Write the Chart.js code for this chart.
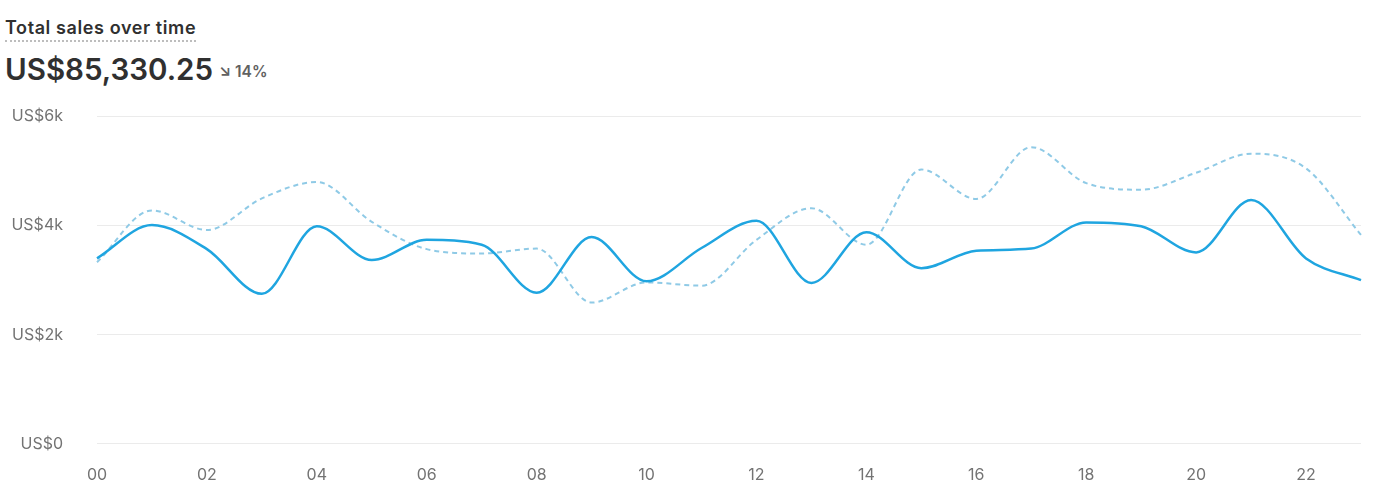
<!DOCTYPE html>
<html>
<head>
<meta charset="utf-8">
<script src="https://cdn.jsdelivr.net/npm/chart.js@4/dist/chart.umd.min.js"></script>
<style>
  html, body { margin: 0; padding: 0; background: #fff; font-family: Inter, "Noto Sans", sans-serif; }
  .title { position: absolute; left: 5px; top: 19px; font-size: 18px; line-height: 1; font-weight: 600; color: #303030;
           letter-spacing: 0.6px; padding-bottom: 3px; border-bottom: 2px dotted #bdbdbd; }
  .total { position: absolute; left: 5px; top: 55px; font-size: 29.5px; line-height: 1; font-weight: 600; color: #303030; }
  .delta { position: absolute; left: 219px; top: 64px; font-size: 15.5px; line-height: 1; font-weight: 600; color: #616161; }
  .wrap { position: absolute; left: 0; top: 73px; width: 1376px; height: 426px; }
</style>
</head>
<body>
<div class="title">Total sales over time</div>
<div class="total">US$85,330.25</div>
<div class="delta">&#8600; 14%</div>
<div class="wrap"><canvas id="chart"></canvas></div>
<script>
const hours = ['00','01','02','03','04','05','06','07','08','09','10','11',
               '12','13','14','15','16','17','18','19','20','21','22','23'];
const currentSales = [3400, 4010, 3570, 2750, 3990, 3370, 3740, 3650, 2770, 3790, 2980, 3590,
                      4090, 2950, 3880, 3220, 3540, 3580, 4060, 3990, 3510, 4470, 3400, 3000];
const previousSales = [3330, 4280, 3920, 4500, 4800, 4070, 3570, 3490, 3580, 2590, 2960, 2900,
                       3740, 4320, 3650, 5030, 4490, 5440, 4780, 4660, 4970, 5320, 5050, 3830];
const yTicks = [0, 2000, 4000, 6000];

const fmtMoney = v => v === 0 ? 'US$0' : 'US$' + (v / 1000) + 'k';

new Chart(document.getElementById('chart'), {
    type: 'line',
    data: {
        labels: hours,
        datasets: [{
            label: 'Current',
            data: currentSales,
            borderColor: '#1fa5e0',
            borderWidth: 2.5,
            pointRadius: 0,
            cubicInterpolationMode: 'monotone',
            fill: false
        }, {
            label: 'Previous',
            data: previousSales,
            borderColor: '#8fcae6',
            borderWidth: 2,
            borderDash: [5, 4],
            pointRadius: 0,
            cubicInterpolationMode: 'monotone',
            fill: false
        }]
    },
    options: {
        responsive: true,
        maintainAspectRatio: false,
        animation: false,
        layout: { padding: { left: 12, right: 15, top: 8 } },
        plugins: {
            legend: { display: false },
            tooltip: { enabled: false }
        },
        scales: {
            x: {
                grid: { display: false },
                border: { display: false },
                ticks: {
                    autoSkip: false,
                    maxRotation: 0,
                    padding: 14,
                    color: '#737373',
                    font: { family: 'Inter', size: 16 },
                    callback: function(v, i) { return i % 2 === 0 ? hours[i] : ''; }
                }
            },
            y: {
                min: 0,
                max: 6000,
                afterBuildTicks: axis => { axis.ticks = yTicks.map(v => ({ value: v })); },
                afterFit: axis => { axis.width = 85; },
                grid: { color: '#ebebeb', drawTicks: false },
                border: { display: false },
                ticks: {
                    padding: 34,
                    color: '#737373',
                    font: { family: 'Inter', size: 16 },
                    callback: v => fmtMoney(v)
                }
            }
        }
    }
});
</script>
</body>
</html>
